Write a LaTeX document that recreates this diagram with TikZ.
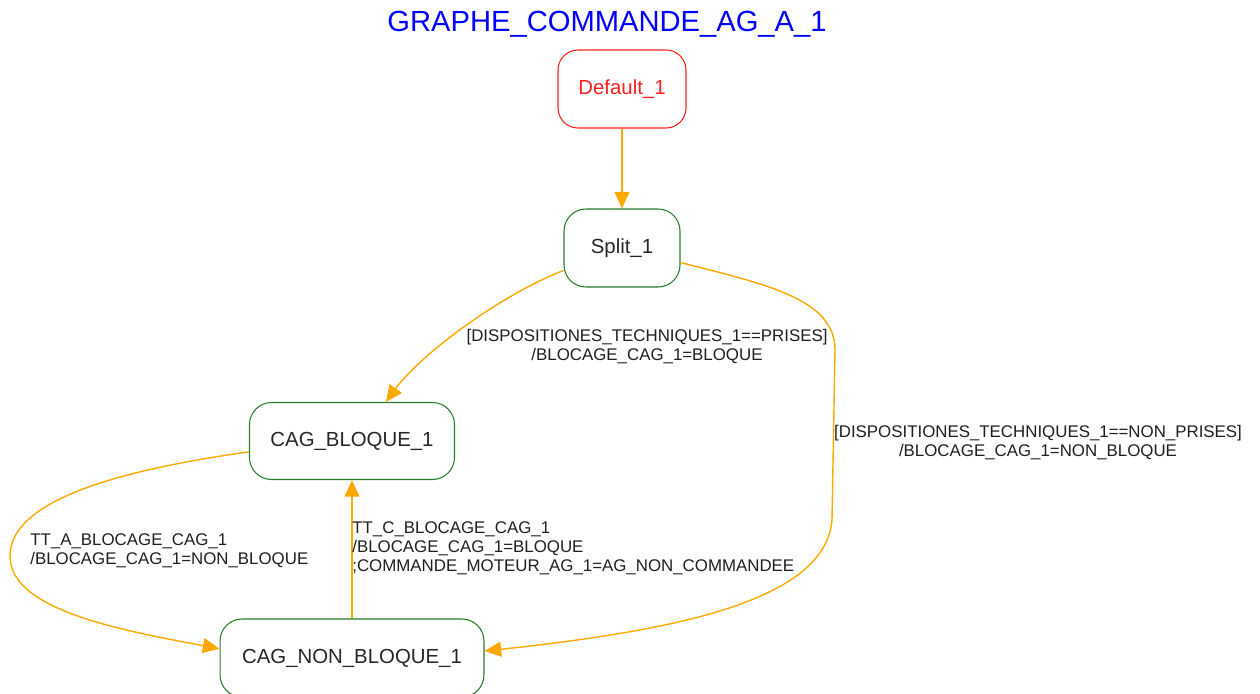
\documentclass[tikz,border=0pt]{standalone}
\usepackage{fontspec}
\setmainfont{Liberation Sans}
\usepackage{xcolor}
\usetikzlibrary{arrows.meta}

\definecolor{stateGreen}{RGB}{40,125,40}
\definecolor{initRed}{RGB}{255,30,30}
\definecolor{transOrange}{RGB}{255,168,0}
\definecolor{titleBlue}{RGB}{0,0,255}

\begin{document}
\begin{tikzpicture}[
      x=0.02cm, y=-0.02cm,
      state/.style={draw=stateGreen, line width=0.6pt, rounded corners=0.44cm, inner sep=0pt,
                    minimum height=1.56cm, font=\fontsize{11.6}{14}\selectfont, text=black!85},
      initstate/.style={state, draw=initRed, text=initRed, rounded corners=0.4cm},
      lbl/.style={font=\fontsize{9.6}{10.8}\selectfont, text=black!88, inner sep=0pt},
      trans/.style={-{Triangle[length=9.5pt, width=8.5pt]}, draw=transOrange, line width=0.8pt},
    ]
    \useasboundingbox (0,0) rectangle (1260,693);

    \node[font=\fontsize{16.6}{20}\selectfont, text=titleBlue] (title) at (607,24) {GRAPHE\_COMMANDE\_AG\_A\_1};

    % states
    \node[initstate, minimum width=2.56cm] (dflt) at (622,89) {Default\_1};
    \node[state, minimum width=2.32cm] (split) at (622,248) {Split\_1};
    \node[state, minimum width=4.1cm, minimum height=1.54cm] (bloque) at (352,441) {CAG\_BLOQUE\_1};
    \node[state, minimum width=5.28cm] (nonbloque) at (352,658) {CAG\_NON\_BLOQUE\_1};

    % transitions
    \draw[trans] (dflt) -- (split);
    \draw[trans] (split.201) .. controls (500,295) and (420,355) .. (bloque.49);
    \draw[trans] (split.346) .. controls (770,285) and (835,300) .. (835,350)
      -- (832,520) .. controls (825,600) and (680,630) .. (nonbloque.3);
    \draw[trans] (bloque.186) .. controls (120,470) and (10,500) .. (10,556)
      .. controls (10,610) and (120,630) .. (nonbloque.176);
    \draw[trans] (nonbloque.north) -- (bloque.south);

    % guards and actions
    \node[lbl, align=center] (lblPrises) at (647,347) {[DISPOSITIONES\_TECHNIQUES\_1==PRISES]\\/BLOCAGE\_CAG\_1=BLOQUE};
    \node[lbl, align=center] (lblNonPrises) at (1038,443) {[DISPOSITIONES\_TECHNIQUES\_1==NON\_PRISES]\\/BLOCAGE\_CAG\_1=NON\_BLOQUE};
    \node[lbl, align=left, anchor=west] (lblTTA) at (30,551) {TT\_A\_BLOCAGE\_CAG\_1\\/BLOCAGE\_CAG\_1=NON\_BLOQUE};
    \node[lbl, align=left, anchor=west] (lblTTC) at (352,548) {TT\_C\_BLOCAGE\_CAG\_1\\/BLOCAGE\_CAG\_1=BLOQUE\\;COMMANDE\_MOTEUR\_AG\_1=AG\_NON\_COMMANDEE};
  \end{tikzpicture}
\end{document}
